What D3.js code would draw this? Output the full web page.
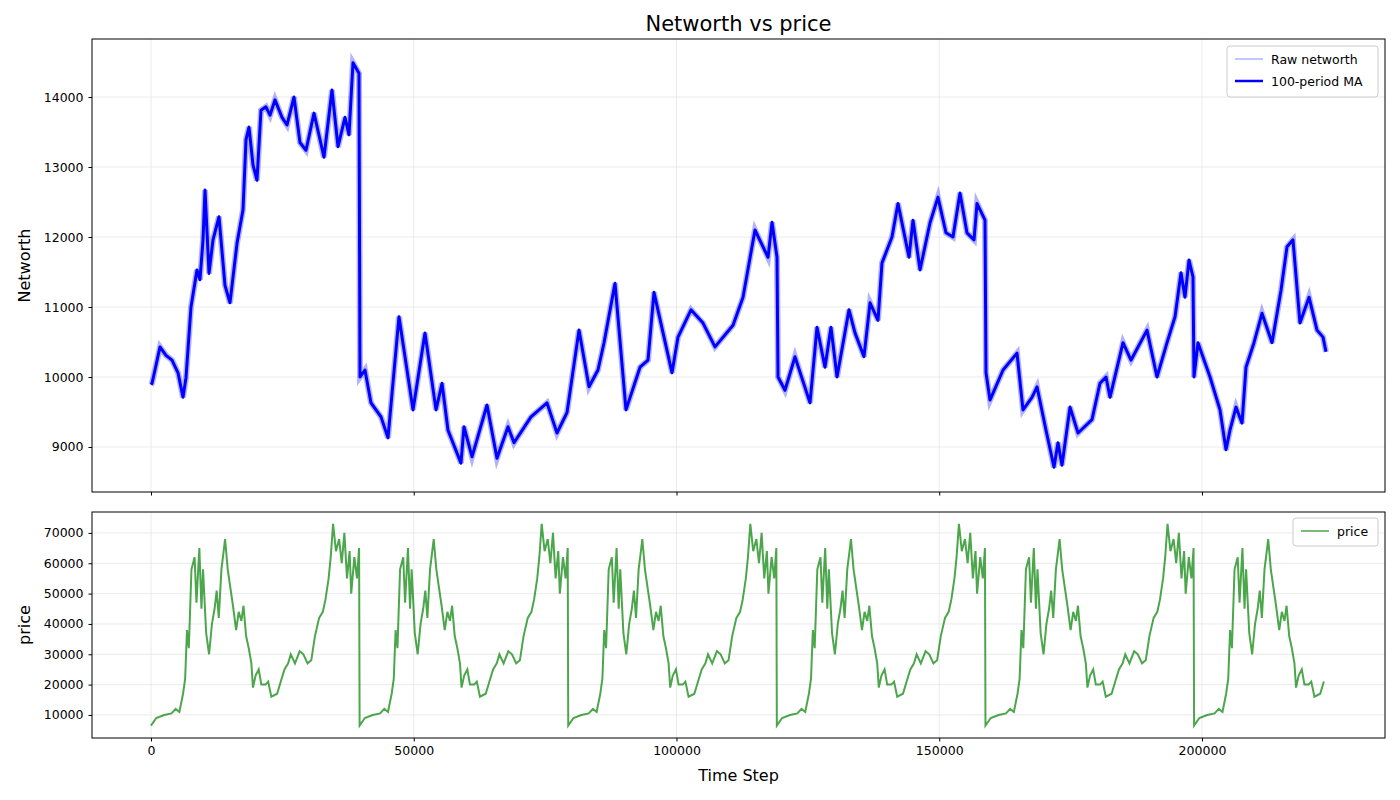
<!DOCTYPE html>
<html>
<head>
<meta charset="utf-8">
<script src="https://cdn.jsdelivr.net/npm/d3@7"></script>
<style>
  body { margin: 0; background: #fff; }
  text { font-family: "DejaVu Sans", sans-serif; }
</style>
</head>
<body>
<svg id="chart" width="1400" height="800"></svg>
<script>
// networth: [time step, value]
var networthPts = [
  [0,9890],[190,9910],[760,10100],[1710,10430],[2850,10310],[4000,10240],[5140,10060],[6090,9710],
  [6660,9990],[7610,11000],[8750,11530],[9320,11390],[9900,11960],[10280,12670],[11040,11480],
  [11800,11960],[12940,12290],[14080,11310],[15030,11060],[16370,11910],[17510,12390],[18080,13390],
  [18650,13570],[19410,13030],[20170,12810],[20930,13810],[21880,13860],[22650,13740],[23600,13960],
  [24930,13710],[25880,13600],[27210,14000],[28350,13350],[29500,13240],[31020,13770],[32920,13140],
  [34440,14100],[35590,13290],[36920,13710],[37680,13460],[38440,14490],[39580,14340],[39770,10000],
  [40720,10100],[41870,9630],[43770,9430],[45100,9130],[47190,10860],[49860,9530],[52140,10630],
  [54240,9530],[55380,9910],[56520,9240],[58990,8770],[59560,9290],[61090,8860],[63940,9600],
  [65840,8840],[67940,9290],[69080,9060],[72310,9430],[75360,9630],[77260,9200],[79160,9490],
  [81450,10670],[83350,9860],[85060,10100],[86210,10490],[88300,11340],[90390,9530],[93060,10140],
  [94580,10240],[95720,11210],[99150,10060],[100290,10570],[102760,10960],[105050,10770],[107330,10430],
  [110760,10740],[112660,11140],[114940,12100],[117420,11710],[118180,12210],[119130,11710],[119320,10000],
  [120650,9810],[122550,10290],[125410,9630],[126740,10710],[128260,10140],[129400,10710],[130550,10000],
  [132830,10960],[133970,10630],[135680,10290],[136830,11060],[138350,10810],[139110,11630],[141010,12000],
  [142150,12480],[144250,11710],[145010,12240],[146340,11530],[148240,12200],[149760,12570],[151290,12060],
  [152620,12000],[153950,12630],[155280,12060],[156620,11960],[157190,12480],[158710,12240],[158900,10060],
  [159660,9670],[162140,10100],[164800,10340],[165940,9530],[167650,9710],[168610,9860],[170320,9240],
  [171840,8710],[172600,9060],[173360,8740],[174890,9570],[176410,9200],[179070,9390],[180590,9910],
  [181740,10000],[182500,9710],[184970,10490],[186490,10240],[189540,10670],[191440,10000],[193350,10490],
  [194870,10860],[196010,11490],[196770,11140],[197530,11670],[198290,11430],[198480,10000],[199240,10490],
  [201530,10000],[203430,9530],[204570,8960],[205330,9240],[206480,9570],[207620,9340],[208380,10140],
  [209900,10490],[211420,10910],[213330,10490],[215040,11240],[216180,11860],[217320,11960],[218650,10770],
  [220370,11140],[221890,10670],[223030,10570],[223600,10360]
];

// one price cycle: [step within cycle, price]; the chart repeats it
var priceCycle = [
  [0,6500],[1000,9000],[2500,10000],[3900,10500],[4700,12000],[5400,11000],[6100,17000],[6500,22000],
  [6850,38000],[7200,32000],[7700,58000],[8300,62000],[8650,47000],[9200,65000],[9600,45000],[9900,58000],
  [10500,37000],[11050,30000],[11600,40000],[12100,45000],[12500,51000],[12900,42000],[13400,58000],
  [13760,63000],[14100,68000],[14600,58000],[15100,52000],[15600,46000],[16200,38000],[16700,44000],
  [17200,41000],[17600,46000],[18100,36000],[18600,32000],[19100,27000],[19400,19000],[19900,23000],
  [20500,25000],[21000,20000],[21800,20000],[22300,21000],[22900,16000],[24000,17000],[24700,21000],
  [25400,25000],[26100,27000],[26600,30000],[27400,27000],[28300,31000],[29000,30000],[29800,27000],
  [30500,28000],[31200,36000],[32000,42000],[32700,44000],[33200,48000],[33800,55000],[34200,62000],
  [34650,73000],[35200,64000],[35800,68000],[36300,60000],[36800,70000],[37300,55000],[37800,64000],
  [38100,50000],[38700,62000],[39200,55000],[39600,65000]
];
var cycleLength = 39700;
var cycleCount = 6;
var lastStep = 223600;

var xTicks = [0, 50000, 100000, 150000, 200000];
var netTicks = [9000, 10000, 11000, 12000, 13000, 14000];
var priceTicks = [10000, 20000, 30000, 40000, 50000, 60000, 70000];

var pricePts = [];
for (var c = 0; c < cycleCount; c++) {
  priceCycle.forEach(function(p){
    var s = p[0] + c * cycleLength;
    if (s <= lastStep) pricePts.push([s, p[1]]);
  });
}

var svg = d3.select("#chart");
var L = 92, R = 1385;
var top1 = 39, bot1 = 492, top2 = 512, bot2 = 738;

var x = d3.scaleLinear().domain([-11227, 234830]).range([L, R]);
var y1 = d3.scaleLinear().domain([8357, 14829]).range([bot1, top1]);
var y2 = d3.scaleLinear().domain([2400, 76900]).range([bot2, top2]);

function panel(y, top, bot, yTicks, showX) {
  var g = svg.append("g");
  g.selectAll(".gx").data(xTicks).enter().append("line")
    .attr("x1", function(d){ return x(d); }).attr("x2", function(d){ return x(d); })
    .attr("y1", top).attr("y2", bot).attr("stroke", "#e6e6e6").attr("stroke-width", 0.8);
  g.selectAll(".gy").data(yTicks).enter().append("line")
    .attr("x1", L).attr("x2", R)
    .attr("y1", function(d){ return y(d); }).attr("y2", function(d){ return y(d); })
    .attr("stroke", "#e6e6e6").attr("stroke-width", 0.8);
  var ax = g.append("g").attr("transform", "translate(0," + bot + ")")
    .call(d3.axisBottom(x).tickValues(xTicks).tickSize(3.5).tickPadding(5)
      .tickFormat(showX ? d3.format("d") : function(){ return ""; }));
  var ay = g.append("g").attr("transform", "translate(" + L + ",0)")
    .call(d3.axisLeft(y).tickValues(yTicks).tickSize(3.5).tickPadding(5).tickFormat(d3.format("d")));
  [ax, ay].forEach(function(a){
    a.select(".domain").remove();
    a.selectAll("text").style("font-size", "12.5px").attr("fill", "#000");
  });
  return g;
}

var g1 = panel(y1, top1, bot1, netTicks, false);
var g2 = panel(y2, top2, bot2, priceTicks, true);

var clip = svg.append("defs");
clip.append("clipPath").attr("id", "c1").append("rect").attr("x", L).attr("y", top1).attr("width", R - L).attr("height", bot1 - top1);
clip.append("clipPath").attr("id", "c2").append("rect").attr("x", L).attr("y", top2).attr("width", R - L).attr("height", bot2 - top2);

var line1 = d3.line().x(function(d){ return x(d[0]); }).y(function(d){ return y1(d[1]); });
var line2 = d3.line().x(function(d){ return x(d[0]); }).y(function(d){ return y2(d[1]); });

g1.append("path").datum(networthPts).attr("d", line1).attr("clip-path", "url(#c1)")
  .attr("fill", "none").attr("stroke", "blue").attr("stroke-opacity", 0.3).attr("stroke-width", 6);
g1.append("path").datum(networthPts).attr("d", line1).attr("clip-path", "url(#c1)")
  .attr("fill", "none").attr("stroke", "blue").attr("stroke-width", 3).attr("stroke-linejoin", "round");
g2.append("path").datum(pricePts).attr("d", line2).attr("clip-path", "url(#c2)")
  .attr("fill", "none").attr("stroke", "green").attr("stroke-opacity", 0.7).attr("stroke-width", 2);

// frames
[[top1, bot1], [top2, bot2]].forEach(function(p){
  svg.append("rect").attr("x", L).attr("y", p[0]).attr("width", R - L).attr("height", p[1] - p[0])
    .attr("fill", "none").attr("stroke", "#000").attr("stroke-width", 1);
});

// legends
function legend(x0, y0, w, items) {
  var h = items.length * 23 + 5;
  svg.append("rect").attr("x", x0).attr("y", y0).attr("width", w).attr("height", h).attr("rx", 3)
    .attr("fill", "#fff").attr("fill-opacity", 0.8).attr("stroke", "#ccc");
  items.forEach(function(it, i){
    var yy = y0 + 13 + i * 22;
    svg.append("line").attr("x1", x0 + 8).attr("x2", x0 + 36).attr("y1", yy).attr("y2", yy)
      .attr("stroke", it.c).attr("stroke-opacity", it.o).attr("stroke-width", it.w);
    svg.append("text").attr("x", x0 + 44).attr("y", yy + 4.5).text(it.t).style("font-size", "12.5px");
  });
}
legend(1227, 46, 151, [
  {t: "Raw networth", c: "blue", o: 0.3, w: 1.5},
  {t: "100-period MA", c: "blue", o: 1, w: 2.5}
]);
legend(1293, 518, 85, [{t: "price", c: "green", o: 0.7, w: 1.5}]);

svg.append("text").attr("x", (L + R) / 2).attr("y", 31).attr("text-anchor", "middle")
  .style("font-size", "21px").text("Networth vs price");
svg.append("text").attr("transform", "translate(30," + (top1 + bot1) / 2 + ") rotate(-90)")
  .attr("text-anchor", "middle").style("font-size", "16px").text("Networth");
svg.append("text").attr("transform", "translate(30," + (top2 + bot2) / 2 + ") rotate(-90)")
  .attr("text-anchor", "middle").style("font-size", "16px").text("price");
svg.append("text").attr("x", (L + R) / 2).attr("y", 781).attr("text-anchor", "middle")
  .style("font-size", "16px").text("Time Step");
</script>
</body>
</html>
